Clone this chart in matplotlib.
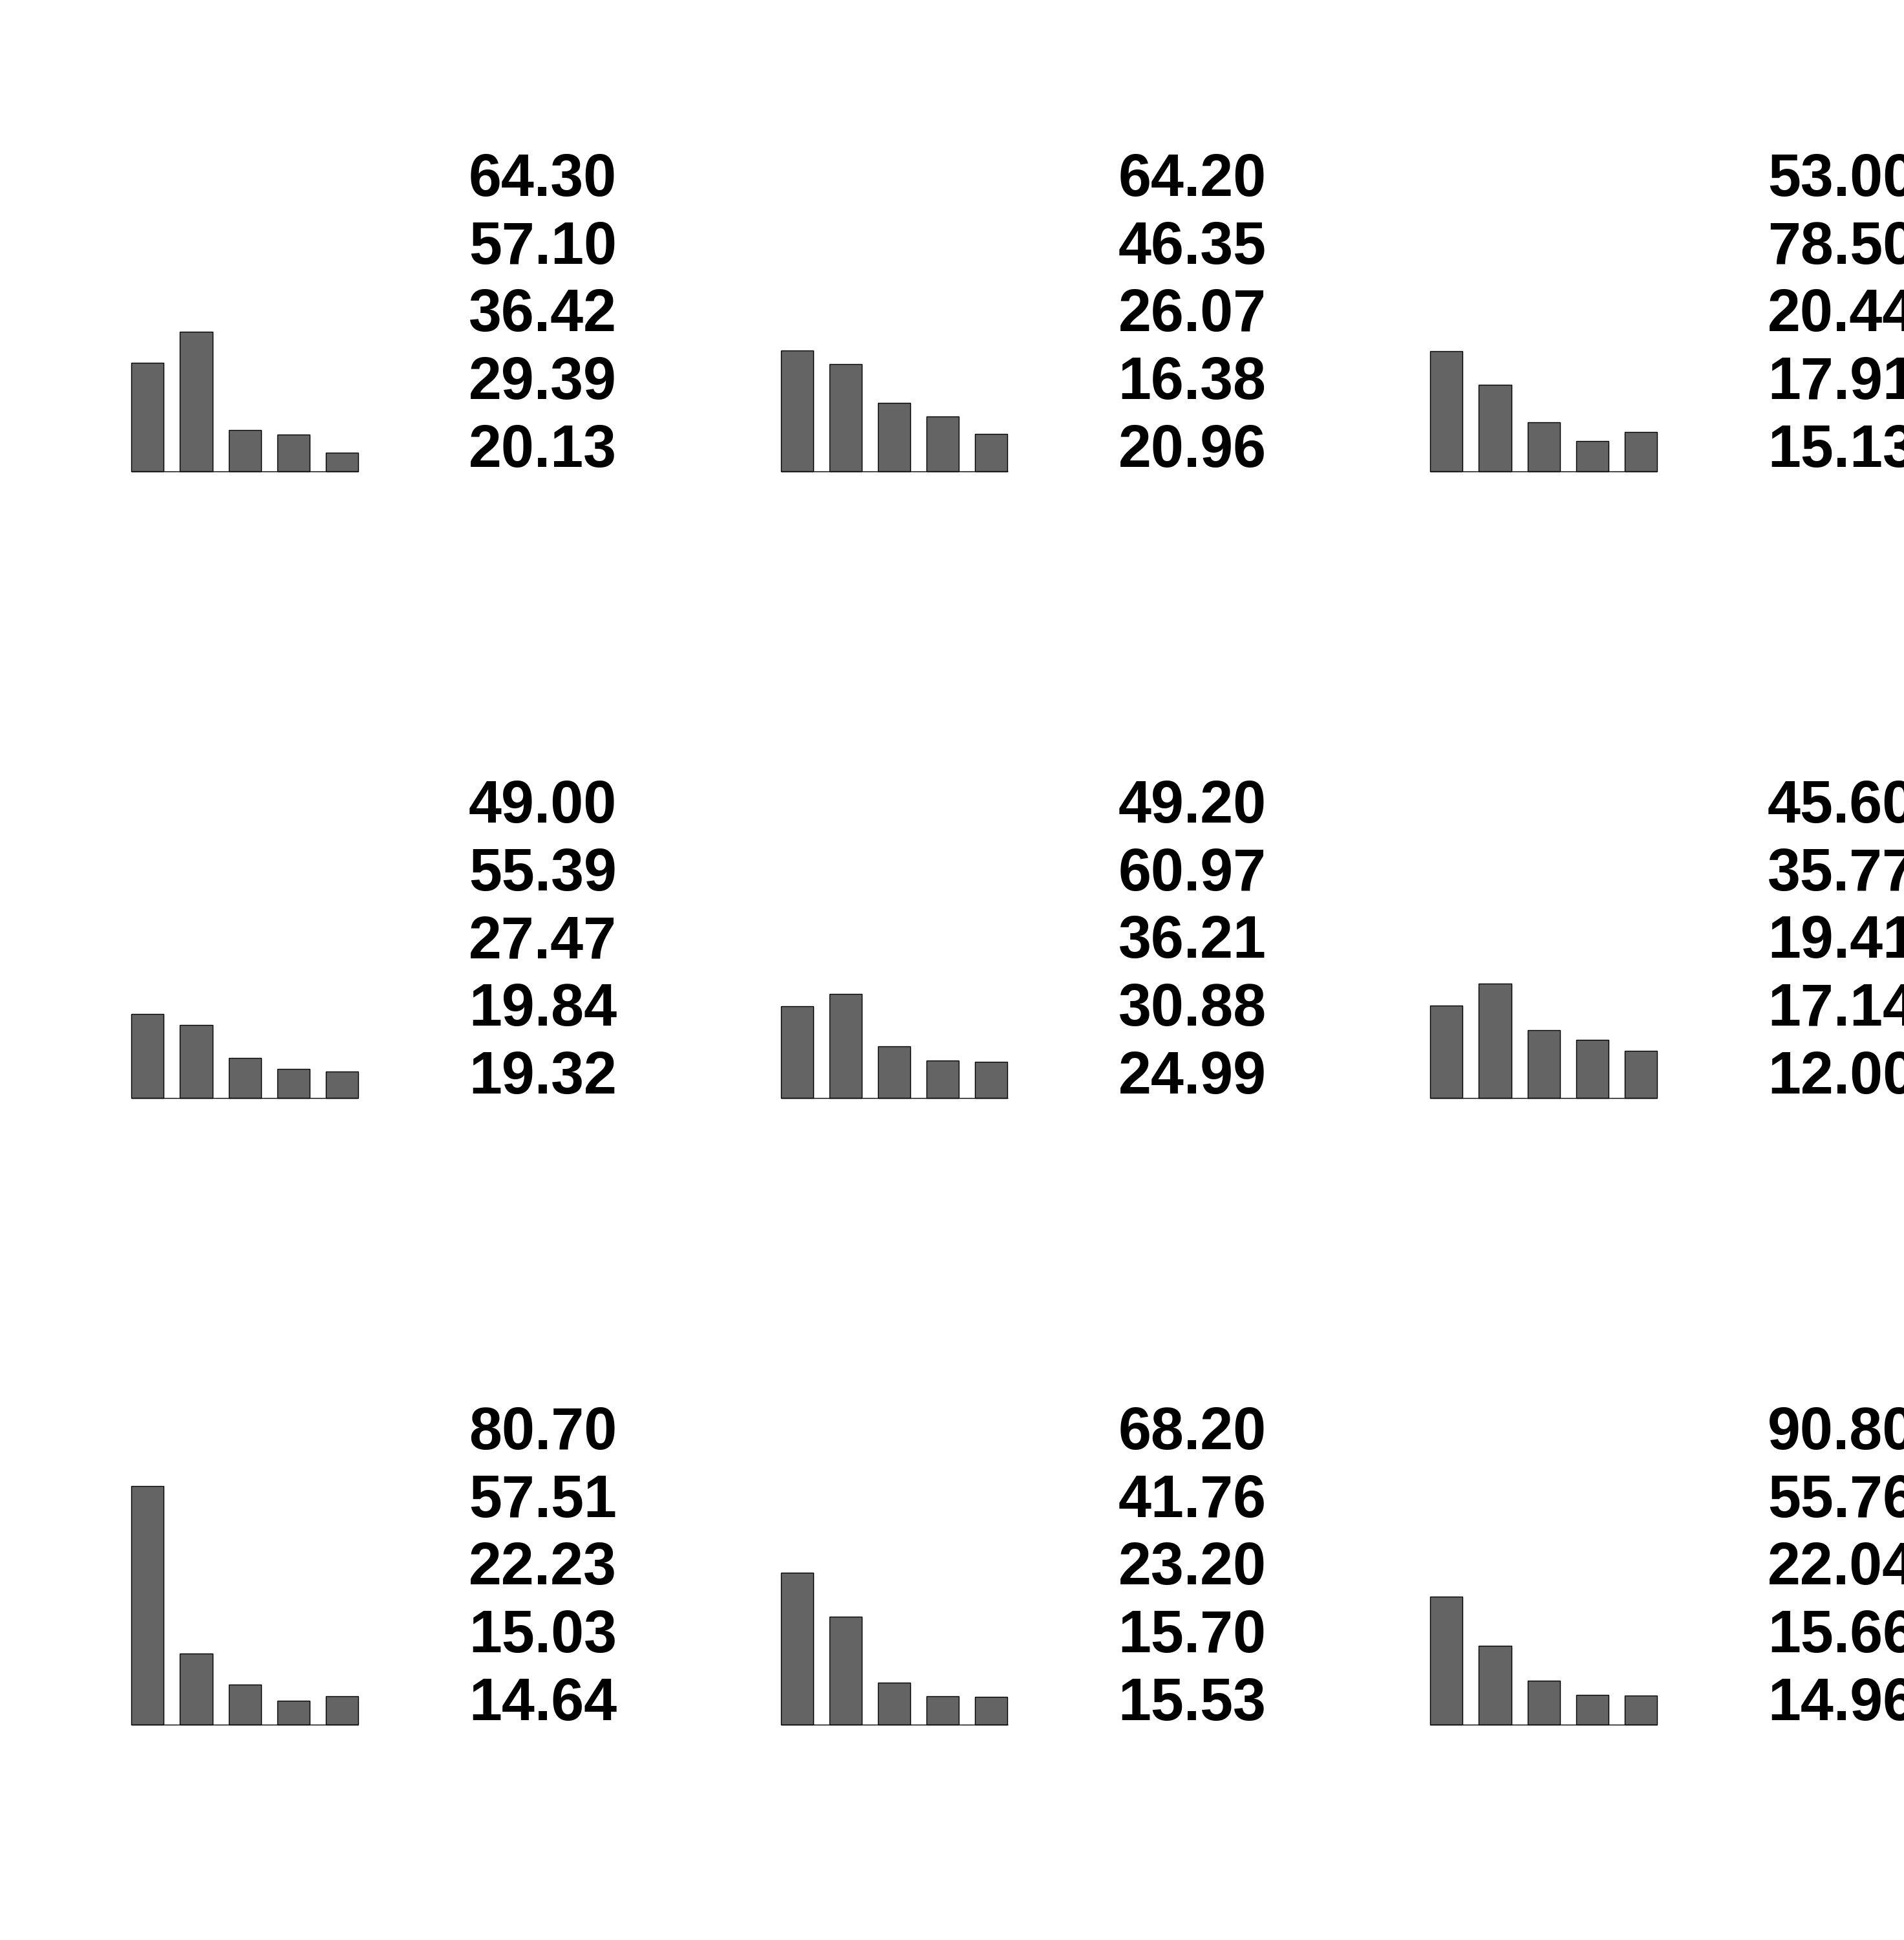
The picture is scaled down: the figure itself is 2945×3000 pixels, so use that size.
import matplotlib
matplotlib.use("Agg")
import matplotlib.pyplot as plt
import numpy as np

# Bar heights per panel (shared scale)
bars_p1 = [16.8, 21.6, 6.4, 5.7, 2.9]
bars_p2 = [18.7, 16.6, 10.6, 8.5, 5.8]
bars_p3 = [18.6, 13.4, 7.6, 4.7, 6.1]
bars_p4 = [13.0, 11.3, 6.2, 4.5, 4.1]
bars_p5 = [14.2, 16.1, 8.0, 5.8, 5.6]
bars_p6 = [14.3, 17.7, 10.5, 9.0, 7.3]
bars_p7 = [36.9, 11.0, 6.2, 3.7, 4.4]
bars_p8 = [23.5, 16.7, 6.5, 4.4, 4.3]
bars_p9 = [19.8, 12.2, 6.8, 4.6, 4.5]

# Numbers printed next to each panel
labels_p1 = ["64.30", "57.10", "36.42", "29.39", "20.13"]
labels_p2 = ["64.20", "46.35", "26.07", "16.38", "20.96"]
labels_p3 = ["53.00", "78.50", "20.44", "17.91", "15.13"]
labels_p4 = ["49.00", "55.39", "27.47", "19.84", "19.32"]
labels_p5 = ["49.20", "60.97", "36.21", "30.88", "24.99"]
labels_p6 = ["45.60", "35.77", "19.41", "17.14", "12.00"]
labels_p7 = ["80.70", "57.51", "22.23", "15.03", "14.64"]
labels_p8 = ["68.20", "41.76", "23.20", "15.70", "15.53"]
labels_p9 = ["90.80", "55.76", "22.04", "15.66", "14.96"]

bars = [bars_p1, bars_p2, bars_p3, bars_p4, bars_p5, bars_p6, bars_p7, bars_p8, bars_p9]
labels = [labels_p1, labels_p2, labels_p3, labels_p4, labels_p5, labels_p6,
          labels_p7, labels_p8, labels_p9]

W, H = 2945, 3000
fig = plt.figure(figsize=(W / 100, H / 100), dpi=100)
fig.patch.set_facecolor("white")

x_pos = np.arange(5) * 1.5
col_dx = 1004.5
row_dy = 969.0
ax_left0 = 203.3       # px, left edge of first bar
ax_w = 350.7           # px
base0 = 729.3          # px from top, bar baseline in first row
ax_h = 400.0           # px, ylim 0..40
text_x0 = 725.0
text_base0 = 303.2
line_gap = 104.6

for i in range(9):
    r, c = divmod(i, 3)
    left = ax_left0 + c * col_dx
    base = base0 + r * row_dy
    ax = fig.add_axes([left / W, 1 - base / H, ax_w / W, ax_h / H])
    ax.bar(x_pos, bars[i], width=1.0, color="#646464", edgecolor="black",
           linewidth=1.0, clip_on=False)
    ax.hlines(0, x_pos[0] - 0.5, x_pos[-1] + 0.5, color="black", linewidth=1.0,
              clip_on=False)
    ax.set_xlim(-0.5, 6.5)
    ax.set_ylim(0, 40)
    ax.axis("off")

    # the right column runs past the figure edge, as in the original
    for k, txt in enumerate(labels[i]):
        y = text_base0 + r * row_dy + k * line_gap
        fig.text((text_x0 + c * col_dx) / W, 1 - y / H, txt,
                 ha="left", va="baseline", fontsize=66, fontweight="bold",
                 family=["Liberation Sans", "DejaVu Sans"], color="black")

fig.savefig("out.png", dpi=100, facecolor="white")
